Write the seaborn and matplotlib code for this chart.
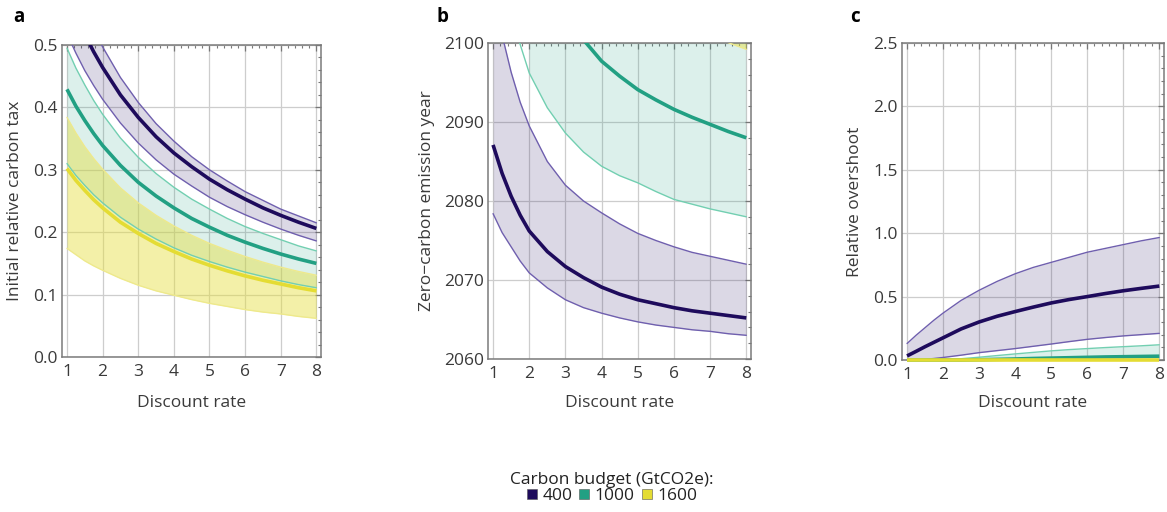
import numpy as np
import pandas as pd
import matplotlib
matplotlib.use("Agg")
import matplotlib.pyplot as plt
from matplotlib.lines import Line2D
from matplotlib.ticker import MultipleLocator
import seaborn as sns

# ---------------------------------------------------------------- data
discount = [1, 1.25, 1.5, 1.75, 2, 2.5, 3, 3.5, 4, 4.5, 5, 5.5, 6, 6.5, 7, 7.5, 8]
budgets = ["400", "1000", "1600"]

# a: initial relative carbon tax (central, lower, upper)
tax_400_mid = [0.586, 0.549, 0.517, 0.489, 0.464, 0.420, 0.384, 0.353, 0.327, 0.305, 0.285, 0.268, 0.253, 0.239, 0.227, 0.216, 0.206]
tax_400_lo = [0.518, 0.487, 0.459, 0.435, 0.413, 0.375, 0.343, 0.316, 0.293, 0.274, 0.256, 0.241, 0.228, 0.216, 0.205, 0.195, 0.186]
tax_400_hi = [0.635, 0.594, 0.558, 0.525, 0.497, 0.448, 0.408, 0.374, 0.346, 0.321, 0.300, 0.282, 0.265, 0.251, 0.237, 0.226, 0.215]
tax_1000_mid = [0.429, 0.402, 0.379, 0.358, 0.339, 0.307, 0.280, 0.258, 0.239, 0.222, 0.208, 0.195, 0.184, 0.174, 0.165, 0.157, 0.150]
tax_1000_lo = [0.310, 0.291, 0.275, 0.260, 0.247, 0.224, 0.205, 0.189, 0.175, 0.163, 0.153, 0.144, 0.136, 0.129, 0.122, 0.116, 0.111]
tax_1000_hi = [0.495, 0.463, 0.436, 0.411, 0.389, 0.351, 0.320, 0.294, 0.272, 0.253, 0.237, 0.222, 0.209, 0.198, 0.188, 0.178, 0.170]
tax_1600_mid = [0.302, 0.283, 0.267, 0.252, 0.239, 0.216, 0.198, 0.182, 0.169, 0.157, 0.147, 0.138, 0.130, 0.123, 0.117, 0.111, 0.106]
tax_1600_lo = [0.174, 0.164, 0.154, 0.146, 0.139, 0.126, 0.115, 0.106, 0.099, 0.092, 0.086, 0.081, 0.076, 0.072, 0.069, 0.065, 0.062]
tax_1600_hi = [0.384, 0.359, 0.337, 0.318, 0.301, 0.271, 0.247, 0.227, 0.210, 0.195, 0.182, 0.171, 0.161, 0.152, 0.144, 0.137, 0.131]

# b: zero-carbon emission year (NaN = no zero-emission year defined)
nan = np.nan
year_400_mid = [2087.1, 2083.5, 2080.6, 2078.2, 2076.2, 2073.6, 2071.7, 2070.3, 2069.1, 2068.2, 2067.5, 2067.0, 2066.5, 2066.1, 2065.8, 2065.5, 2065.2]
year_400_lo = [2078.4, 2076.0, 2074.2, 2072.4, 2070.9, 2069.0, 2067.5, 2066.5, 2065.8, 2065.2, 2064.7, 2064.3, 2064.0, 2063.7, 2063.5, 2063.2, 2063.0]
year_400_hi = [2107.0, 2101.0, 2096.3, 2092.5, 2089.5, 2085.0, 2082.0, 2080.0, 2078.5, 2077.1, 2075.9, 2075.0, 2074.2, 2073.5, 2073.0, 2072.5, 2072.0]
year_1000_mid = [2136.0, 2129.0, 2123.0, 2118.0, 2114.0, 2108.0, 2103.5, 2100.4, 2097.7, 2095.8, 2094.1, 2092.8, 2091.6, 2090.6, 2089.7, 2088.8, 2088.0]
year_1000_lo = [2115.0, 2109.0, 2104.0, 2099.8, 2096.2, 2091.8, 2088.6, 2086.2, 2084.4, 2083.2, 2082.3, 2081.2, 2080.2, 2079.6, 2079.0, 2078.5, 2078.0]
year_1000_hi = [nan, nan, nan, nan, 2160.0, 2150.0, 2142.0, 2136.0, 2131.0, 2127.0, 2124.0, 2121.0, 2119.0, 2117.0, 2115.0, 2113.5, 2112.0]
year_1600_mid = [nan, nan, nan, nan, nan, nan, nan, nan, nan, nan, 2130.0, 2127.0, 2124.0, 2122.0, 2120.0, 2118.0, 2116.0]
year_1600_lo = [nan, nan, nan, nan, nan, nan, nan, nan, nan, nan, 2106.0, 2104.5, 2103.0, 2101.9, 2100.9, 2100.05, 2099.2]
year_1600_hi = [nan, nan, nan, nan, nan, nan, nan, nan, nan, nan, 2160.0, 2155.0, 2150.0, 2146.0, 2142.0, 2139.0, 2136.0]

# c: relative overshoot
over_400_mid = [0.032, 0.068, 0.105, 0.140, 0.175, 0.245, 0.300, 0.345, 0.382, 0.417, 0.450, 0.477, 0.500, 0.524, 0.546, 0.565, 0.583]
over_400_lo = [0.0, 0.0, 0.005, 0.012, 0.020, 0.038, 0.058, 0.074, 0.090, 0.108, 0.126, 0.145, 0.163, 0.177, 0.190, 0.200, 0.210]
over_400_hi = [0.130, 0.195, 0.255, 0.315, 0.370, 0.470, 0.550, 0.620, 0.680, 0.730, 0.770, 0.810, 0.850, 0.880, 0.910, 0.940, 0.966]
over_1000_mid = [0.0, 0.0, 0.0, 0.0, 0.0, 0.0, 0.002, 0.005, 0.008, 0.012, 0.015, 0.018, 0.021, 0.024, 0.026, 0.028, 0.030]
over_1000_lo = [0.0] * 17
over_1000_hi = [0.0, 0.0, 0.0, 0.0, 0.003, 0.010, 0.022, 0.035, 0.048, 0.060, 0.072, 0.082, 0.090, 0.098, 0.105, 0.112, 0.120]
over_1600_mid = [0.0] * 17
over_1600_lo = [0.0] * 17
over_1600_hi = [0.0] * 17

# ---------------------------------------------------------------- style
line_colors = {"400": "#1e0b5c", "1000": "#22a083", "1600": "#e4dc33"}
edge_colors = {"400": "#6f5fae", "1000": "#72cfb1", "1600": "#eee98c"}
fill_colors = {"400": ("#1e0b5c", 0.155), "1000": ("#22a083", 0.155), "1600": ("#e6df3e", 0.45)}

sns.set_theme(style="white")
plt.rcParams["font.family"] = ["Open Sans", "DejaVu Sans"]
plt.rcParams["text.color"] = "#333333"
plt.rcParams["axes.labelcolor"] = "#3a3a3a"
plt.rcParams["xtick.color"] = "#777777"
plt.rcParams["ytick.color"] = "#777777"
plt.rcParams["xtick.labelcolor"] = "#3a3a3a"
plt.rcParams["ytick.labelcolor"] = "#3a3a3a"


def long_frame(series):
    rows = []
    for b, (mid, lo, hi) in series.items():
        for i, x in enumerate(discount):
            rows.append({"rate": x, "budget": b, "mid": mid[i], "lo": lo[i], "hi": hi[i]})
    return pd.DataFrame(rows)


panels = [
    dict(letter="a", label="Initial relative carbon tax", ylim=(0, 0.5), major=0.1, minor=0.02, fmt="{:.1f}",
         data=long_frame({"400": (tax_400_mid, tax_400_lo, tax_400_hi),
                          "1000": (tax_1000_mid, tax_1000_lo, tax_1000_hi),
                          "1600": (tax_1600_mid, tax_1600_lo, tax_1600_hi)}),
         rect=[62, 45, 321, 357], lab_x=15, clip=True),
    dict(letter="b", label="Zero\u2212carbon emission year", ylim=(2060, 2100), major=10, minor=2, fmt="{:.0f}",
         data=long_frame({"400": (year_400_mid, year_400_lo, year_400_hi),
                          "1000": (year_1000_mid, year_1000_lo, year_1000_hi),
                          "1600": (year_1600_mid, year_1600_lo, year_1600_hi)}),
         rect=[488, 43, 751, 359], lab_x=427, clip=True),
    dict(letter="c", label="Relative overshoot", ylim=(0, 2.5), major=0.5, minor=0.1, fmt="{:.1f}",
         data=long_frame({"400": (over_400_mid, over_400_lo, over_400_hi),
                          "1000": (over_1000_mid, over_1000_lo, over_1000_hi),
                          "1600": (over_1600_mid, over_1600_lo, over_1600_hi)}),
         rect=[902, 43, 1164, 360], lab_x=855, clip=False),
]

W, H = 1167, 512
fig = plt.figure(figsize=(W / 100, H / 100), dpi=100)

for p in panels:
    l, t, r, b = p["rect"]
    ax = fig.add_axes([l / W, 1 - b / H, (r - l) / W, (b - t) / H])
    df = p["data"]
    for bud in budgets:
        sub = df[df["budget"] == bud]
        fc, fa = fill_colors[bud]
        ax.fill_between(sub["rate"], sub["lo"], sub["hi"], color=fc, alpha=fa, lw=0, zorder=2)
        for col in ("lo", "hi"):
            sns.lineplot(data=sub, x="rate", y=col, ax=ax, color=edge_colors[bud],
                         lw=1.0, estimator=None, sort=False, zorder=3)
        sns.lineplot(data=sub, x="rate", y="mid", ax=ax, color=line_colors[bud],
                     lw=2.6, estimator=None, sort=False, zorder=4,
                     solid_capstyle="butt", clip_on=p["clip"])

    ax.set_xlim(0.86, 8.13)
    ax.set_ylim(*p["ylim"])
    ax.xaxis.set_major_locator(MultipleLocator(1))
    ax.xaxis.set_minor_locator(MultipleLocator(0.2))
    ax.yaxis.set_major_locator(MultipleLocator(p["major"]))
    ax.yaxis.set_minor_locator(MultipleLocator(p["minor"]))
    ax.set_yticks(np.arange(p["ylim"][0], p["ylim"][1] + p["major"] / 2, p["major"]))
    ax.set_yticklabels([p["fmt"].format(v) for v in ax.get_yticks()])
    ax.set_xticks(range(1, 9))
    ax.set_xticklabels([str(v) for v in range(1, 9)])
    ax.set_ylim(*p["ylim"])

    ax.grid(True, which="major", color="#cdcdcd", lw=0.9, zorder=0)
    ax.set_axisbelow(True)
    for s in ax.spines.values():
        s.set_visible(True)
        s.set_color("#7a7a7a")
        s.set_linewidth(1.1)
    ax.tick_params(which="both", direction="in", top=True, right=True, labelsize=12.5)
    ax.tick_params(which="major", length=4.5, width=0.9)
    ax.tick_params(which="minor", length=2.5, width=0.8)
    ax.tick_params(axis="x", which="major", pad=5)
    ax.tick_params(axis="y", which="major", pad=3)

    ax.set_xlabel("Discount rate", fontsize=12.5)
    ax.set_ylabel(p["label"], fontsize=12.5)
    ax.xaxis.set_label_coords(0.5, -(403 - b) / (b - t))
    ax.xaxis.label.set_va("center")
    ax.yaxis.set_label_coords((p["lab_x"] - l) / (r - l), 0.5)
    ax.yaxis.label.set_va("center")

    fig.text({"a": 13, "b": 437, "c": 850}[p["letter"]] / W, 1 - 17 / H, p["letter"],
             fontsize=13.5, fontweight="bold", color="black", va="center", ha="left")

handles = [Line2D([], [], ls="", marker="s", markersize=7.5, markerfacecolor=line_colors[b],
                  markeredgecolor="#555555", markeredgewidth=0.4) for b in budgets]
leg = fig.legend(handles, budgets, loc="center", bbox_to_anchor=(612 / W, 1 - 488 / H), ncol=3,
                 title="Carbon budget (GtCO2e):", frameon=False, fontsize=12.5, title_fontsize=12.5,
                 handlelength=0.6, handletextpad=0.3, columnspacing=0.4, borderpad=0, labelspacing=0)
leg.get_title().set_color("#222222")
for t in leg.get_texts():
    t.set_color("#222222")

fig.savefig("out.png", dpi=100)
